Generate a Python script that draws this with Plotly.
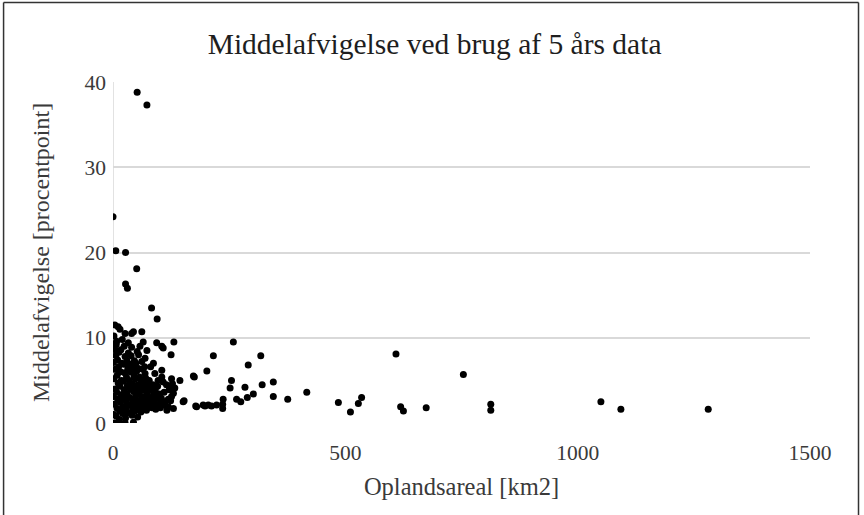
import plotly.graph_objects as go

# Catchment area [km2] and mean deviation [percentage points], 5-year records
sparse_area = [52, 73, 0, 6, 27, 51, 27, 31, 83, 95, 4, 11, 26, 40, 62, 65, 94, 105,
               131, 125, 216, 202, 175, 144, 126, 153, 180, 198, 212, 4, 15, 26, 44,
               259, 318, 291, 255, 252, 284, 321, 345, 417, 345, 376, 302, 289, 266,
               275, 237, 236, 236, 223, 485, 511, 528, 535, 609, 619, 625,
               754, 813, 813, 674, 1050, 1093, 1281,
               108, 15, 44, 4, 4, 33, 55, 69, 47, 87, 90, 69, 105, 97, 87, 151,
               178, 194, 205, 173, 108, 115, 126, 133, 130, 126, 119, 101, 108, 119,
               130, 105]
sparse_dev = [38.8, 37.3, 24.2, 20.2, 20.0, 18.1, 16.3, 15.8, 13.5, 12.2, 11.5, 11.3,
              10.5, 10.5, 10.7, 9.5, 9.4, 9.0, 9.5, 8.0, 7.9, 6.1, 5.4, 5.0, 5.2, 2.6,
              1.9, 2.0, 2.0, 0.0, 0.0, 0.0, 0.1,
              9.5, 7.9, 6.8, 5.0, 4.1, 4.2, 4.5, 4.8, 3.6, 3.1, 2.8, 3.4, 3.0, 2.8,
              2.5, 2.8, 2.2, 1.7, 2.1, 2.4, 1.3, 2.3, 3.0, 8.1, 1.9, 1.4,
              5.7, 2.2, 1.5, 1.8, 2.5, 1.6, 1.6,
              8.8, 11.0, 10.7, 9.3, 8.6, 8.2, 8.0, 7.6, 6.4, 7.0, 5.8, 5.8, 6.2, 5.0,
              3.7, 2.5, 2.0, 2.1, 2.1, 5.5, 4.8, 4.5, 4.1, 4.1, 3.5, 3.1, 2.8, 2.3,
              2.1, 1.9, 1.7, 5.4]

# Small catchments (below ~130 km2), where most stations lie
small_area = [2, 3, 1, 5, 2, 4, 1, 6, 3, 8, 2,
              7, 9, 10, 8, 11, 9, 12, 10, 13, 7,
              14, 15, 16, 17, 15, 18, 16, 19, 17, 20,
              21, 22, 23, 24, 22, 25, 23, 26, 24,
              27, 28, 29, 30, 31, 29, 32, 30, 33,
              34, 35, 36, 37, 35, 38, 36, 39, 40,
              41, 42, 43, 44, 42, 45, 43, 46,
              47, 48, 49, 50, 48, 51, 49, 52,
              53, 54, 55, 56, 54, 57, 55, 58,
              60, 61, 62, 63, 61, 64, 62,
              66, 67, 68, 66, 70, 68,
              72, 73, 74, 75, 73,
              78, 79, 80, 78, 81,
              84, 85, 86, 88,
              90, 91, 92,
              95, 96, 98, 100, 102, 104, 110, 112, 116, 121, 124, 128]
small_dev = [1.0, 2.2, 3.1, 4.0, 5.2, 6.3, 7.1, 7.9, 8.7, 9.6, 10.2,
             0.8, 1.7, 2.8, 3.6, 4.7, 5.6, 6.6, 7.4, 8.3, 9.2,
             0.4, 1.4, 2.4, 3.3, 4.3, 5.0, 6.0, 7.0, 8.6, 9.8,
             1.1, 1.9, 2.9, 3.9, 4.9, 5.9, 6.9, 7.8, 9.0,
             0.6, 1.6, 2.5, 3.4, 4.4, 5.4, 6.4, 7.3, 9.4,
             1.2, 2.1, 3.0, 4.0, 5.0, 6.0, 6.9, 7.9, 8.9,
             0.9, 1.8, 2.7, 3.7, 4.6, 5.5, 6.5, 7.3,
             1.4, 2.3, 3.2, 4.2, 5.2, 6.1, 7.0, 8.4,
             0.7, 1.7, 2.6, 3.6, 4.5, 5.4, 6.4, 9.0,
             1.3, 2.2, 3.1, 4.1, 5.0, 6.3, 7.2,
             1.9, 2.8, 3.8, 4.7, 5.3, 6.6,
             1.5, 2.5, 3.4, 4.4, 8.5,
             2.1, 3.0, 4.0, 5.0, 6.6,
             1.8, 2.7, 4.5, 3.3,
             2.3, 3.9, 1.6,
             2.9, 4.3, 2.0, 3.4, 1.8, 2.9, 3.6, 2.5, 1.5, 3.9, 2.6, 4.6]

x_ticks = [0, 500, 1000, 1500]
y_ticks = [0, 10, 20, 30, 40]

area = sparse_area + small_area
dev = sparse_dev + small_dev

SERIF = "Liberation Serif, Times New Roman, serif"
TEXT = "#3a3a3a"

fig = go.Figure(go.Scatter(
    x=area, y=dev, mode="markers",
    marker=dict(color="black", size=7, line=dict(width=0)),
    showlegend=False,
))

fig.update_layout(
    width=864, height=515,
    margin=dict(l=113, r=54, t=82, b=92),
    paper_bgcolor="white", plot_bgcolor="white",
    title=dict(text="Middelafvigelse ved brug af 5 års data",
               x=0.503, xref="container", xanchor="center",
               y=0.915, yref="container", yanchor="middle",
               font=dict(family=SERIF, size=29.5, color="#1e1e1e")),
    xaxis=dict(range=[0, 1500], tickvals=x_ticks, showgrid=False,
               zeroline=False, showline=False,
               tickfont=dict(family=SERIF, size=21.5, color=TEXT),
               ticks="", ticklabelstandoff=14,
               title=dict(text="Oplandsareal [km2]", standoff=14,
                          font=dict(family=SERIF, size=24.5, color=TEXT))),
    yaxis=dict(range=[0, 40], tickvals=y_ticks, showgrid=True,
               gridcolor="#d9d9d9", gridwidth=1.5, zeroline=False,
               showline=False,
               tickfont=dict(family=SERIF, size=21.5, color=TEXT),
               ticks="", ticklabelstandoff=6,
               title=dict(text="Middelafvigelse [procentpoint]", standoff=28,
                          font=dict(family=SERIF, size=24, color=TEXT))),
)

# light axis line along x = 0, drawn beneath the markers
fig.add_shape(type="line", xref="x", yref="paper", x0=0, x1=0, y0=0, y1=1,
              line=dict(color="#d9d9d9", width=1.5), layer="below")

# frame around the chart: left, top and right edges
for x0, y0, x1, y1 in [(-0.157, -0.27, -0.157, 1.233),
                       (-0.157, 1.233, 1.0696, 1.233),
                       (1.0696, 1.233, 1.0696, -0.27)]:
    fig.add_shape(type="line", xref="paper", yref="paper",
                  x0=x0, y0=y0, x1=x1, y1=y1,
                  line=dict(color="#333333", width=1.5))

fig.write_html("out.html")
